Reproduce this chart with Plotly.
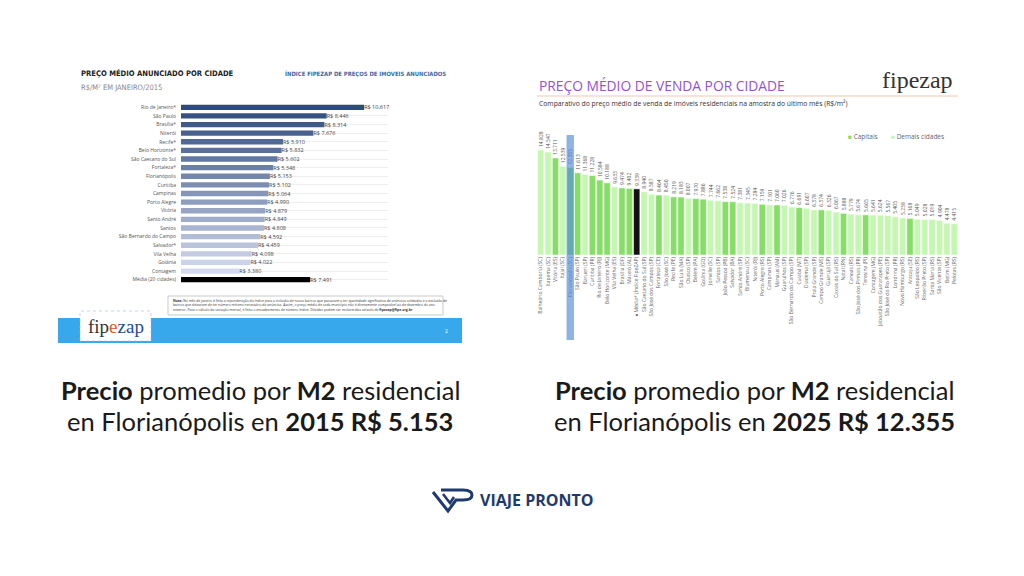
import plotly.graph_objects as go

# ---- left chart data (2015, R$/m2 anunciado)
cities_2015 = ["Rio de Janeiro*", "São Paulo", "Brasília*", "Niterói", "Recife*", "Belo Horizonte*",
               "São Caetano do Sul", "Fortaleza*", "Florianópolis", "Curitiba", "Campinas", "Porto Alegre",
               "Vitória", "Santo André", "Santos", "São Bernardo do Campo", "Salvador*", "Vila Velha",
               "Goiânia", "Contagem", "Média (20 cidades)"]
values_2015 = [10617, 8446, 8314, 7676, 5910, 5832, 5602, 5348, 5153, 5102, 5064, 4990,
               4879, 4849, 4808, 4592, 4459, 4098, 4022, 3380, 7491]

# ---- right chart data (2025, preço médio de venda)
cities_2025 = ["Balneário Camboriú (SC)", "Itapema (SC)", "Vitória (ES)", "Itajaí (SC)", "Florianópolis (SC)",
               "São Paulo (SP)", "Barueri (SP)", "Curitiba (PR)", "Rio de Janeiro (RJ)", "Belo Horizonte (MG)",
               "Vila Velha (ES)", "Brasília (DF)", "Maceió (AL)", "● Média* (Índice FipeZAP)",
               "São Caetano do Sul (SP)", "São José dos Campos (SP)", "Fortaleza (CE)", "São José (SC)",
               "Recife (PE)", "São Luís (MA)", "Osasco (SP)", "Belém (PA)", "Goiânia (GO)", "Joinville (SC)",
               "Santos (SP)", "João Pessoa (PB)", "Salvador (BA)", "Santo André (SP)", "Blumenau (SC)",
               "Niterói (RJ)", "Porto Alegre (RS)", "Campinas (SP)", "Manaus (AM)", "Guarulhos (SP)",
               "São Bernardo do Campo (SP)", "Cuiabá (MT)", "Diadema (SP)", "Praia Grande (SP)",
               "Campo Grande (MS)", "Guarujá (SP)", "Caxias do Sul (RS)", "Natal (RN)", "Canoas (RS)",
               "São José dos Pinhais (PR)", "Teresina (PI)", "Contagem (MG)", "Jaboatão dos Guararapes (PE)",
               "São José do Rio Preto (SP)", "Londrina (PR)", "Novo Hamburgo (RS)", "Aracaju (SE)",
               "São Leopoldo (RS)", "Ribeirão Preto (SP)", "Santa Maria (RS)", "São Vicente (SP)",
               "Betim (MG)", "Pelotas (RS)"]
values_2025 = [14828, 14547, 13711, 12539, 12355, 11613, 11368, 11228, 10584, 10188,
               9633, 9474, 9402, 9339, 8940, 8587, 8464, 8450, 8219, 8183,
               8007, 7970, 7886, 7744, 7662, 7538, 7524, 7381, 7345, 7284,
               7159, 7101, 7060, 7026, 6776, 6691, 6607, 6378, 6374, 6326,
               6067, 5888, 5779, 5674, 5665, 5641, 5624, 5567, 5405, 5238,
               5168, 5049, 5028, 5019, 4904, 4478, 4415]
capitais = ["Vitória (ES)", "Florianópolis (SC)", "São Paulo (SP)", "Curitiba (PR)", "Rio de Janeiro (RJ)",
            "Belo Horizonte (MG)", "Brasília (DF)", "Maceió (AL)", "Fortaleza (CE)", "Recife (PE)",
            "São Luís (MA)", "Belém (PA)", "Goiânia (GO)", "João Pessoa (PB)", "Salvador (BA)",
            "Porto Alegre (RS)", "Manaus (AM)", "Cuiabá (MT)", "Campo Grande (MS)", "Natal (RN)",
            "Teresina (PI)", "Aracaju (SE)"]
media_2025 = "● Média* (Índice FipeZAP)"
destaque = "Florianópolis (SC)"


def br(v):
    return f"{v:,}".replace(",", ".")


W, H = 1024, 576
OFF = 8  # page body margin
def px(x):  # paper x from screen pixel
    return (x - OFF) / W
def py(y):  # paper y from screen pixel (top origin)
    return 1 - (y - OFF) / H


fig = go.Figure()

# left bars: blue gradient, black for the average
n = len(cities_2015)
left_colors = []
for i, c in enumerate(cities_2015):
    if c.startswith("Média"):
        left_colors.append("#000000")
    else:
        t = i / (n - 2)
        r = int(0x2E + t * (0xD4 - 0x2E))
        g = int(0x4B + t * (0xDB - 0x4B))
        b = int(0x7E + t * (0xEE - 0x7E))
        left_colors.append(f"rgb({r},{g},{b})")

fig.add_trace(go.Bar(
    x=values_2015, y=cities_2015, orientation="h",
    marker=dict(color=left_colors, line=dict(width=0)),
    text=["R$ " + br(v) for v in values_2015], textposition="outside", constraintext="none",
    textfont=dict(size=5.5, color="#444", family="Open Sans"),
    cliponaxis=False, width=0.62, showlegend=False,
    xaxis="x", yaxis="y"))

# right bars: capitais / demais / média
cap_x = [c for c in cities_2025 if c in capitais]
cap_y = [v for c, v in zip(cities_2025, values_2025) if c in capitais]
oth_x = [c for c in cities_2025 if c not in capitais and c != media_2025]
oth_y = [v for c, v in zip(cities_2025, values_2025) if c not in capitais and c != media_2025]
med_y = [v for c, v in zip(cities_2025, values_2025) if c == media_2025]

for xs, ys, col, name in [(cap_x, cap_y, "#86DE66", "Capitais"),
                          (oth_x, oth_y, "#C6F7B2", "Demais cidades"),
                          ([media_2025], med_y, "#111111", "Média")]:
    fig.add_trace(go.Bar(
        x=xs, y=ys, name=name, showlegend=False,
        marker=dict(color=col, line=dict(width=0.5, color="white")),
        text=[br(v) for v in ys], textposition="outside", textangle=-90, constraintext="none",
        textfont=dict(size=5, color="#555", family="Open Sans"),
        cliponaxis=False, width=0.85,
        xaxis="x2", yaxis="y2"))

fl = cities_2025.index(destaque)

fig.update_layout(
    width=W, height=H,
    paper_bgcolor="white", plot_bgcolor="rgba(0,0,0,0)",
    margin=dict(l=0, r=0, t=0, b=0),
    barmode="overlay",
    font=dict(family="Open Sans"),
    xaxis=dict(domain=[px(181), px(388)], range=[0, 12000], visible=False),
    yaxis=dict(domain=[py(284), py(103)], autorange="reversed", anchor="x",
               tickfont=dict(size=5, color="#555"), showgrid=True,
               gridcolor="#eeeeee", ticks="", showline=False, ticklabelstandoff=4),
    xaxis2=dict(domain=[px(537), px(958)], anchor="y2", categoryorder="array",
                categoryarray=cities_2025, tickangle=-90,
                tickfont=dict(size=5, color="#666"), showline=False, ticks=""),
    yaxis2=dict(domain=[py(255), py(135)], range=[0, 16950], visible=False, anchor="x2"),
)

shapes = [
    # left: blue footer band
    dict(type="rect", xref="paper", yref="paper", x0=px(58), x1=px(462), y0=py(343), y1=py(318),
         fillcolor="#38A8EC", line=dict(width=0), layer="below"),
    # left: note box
    dict(type="rect", xref="paper", yref="paper", x0=px(168), x1=px(443), y0=py(315), y1=py(296),
         fillcolor="white", line=dict(width=0.8, color="#bbbbbb")),
    # left: logo box
    dict(type="rect", xref="paper", yref="paper", x0=px(80), x1=px(151), y0=py(341), y1=py(311),
         fillcolor="white", line=dict(width=0.6, color="#9bb7dd", dash="dot")),
    # right: rule under title
    dict(type="line", xref="paper", yref="paper", x0=px(537), x1=px(958), y0=py(96), y1=py(96),
         line=dict(width=1, color="#F1C9AE")),
    # right: highlight of Florianópolis
    dict(type="rect", xref="x2", yref="paper", x0=fl - 0.5, x1=fl + 0.5, y0=py(340), y1=py(135),
         fillcolor="rgba(80,140,215,0.65)", line=dict(width=0)),
    # logo mark VP
    dict(type="path", xref="paper", yref="paper",
         path=f"M {px(433)},{py(492)} L {px(448)},{py(511)} L {px(456)},{py(500)} "
              f"L {px(463)},{py(500)} Q {px(472)},{py(500)} {px(472)},{py(495)} "
              f"Q {px(472)},{py(490)} {px(463)},{py(490)} L {px(441)},{py(490)}",
         line=dict(width=3, color="#1F3A6E")),
    dict(type="path", xref="paper", yref="paper",
         path=f"M {px(443)},{py(494)} L {px(450)},{py(503)} L {px(454)},{py(497)}",
         line=dict(width=2.5, color="#1F3A6E")),
]

note = ("<b>Nota:</b> No mês de janeiro é feita a reponderação do índice para a inclusão de novos bairros que passaram a ter quantidade significativa de anúncios coletados e a exclusão de<br>"
        "bairros que deixaram de ter número mínimo necessário de anúncios. Assim, o preço médio de cada município não é diretamente comparável ao de dezembro do ano<br>"
        "anterior. Para o cálculo da variação mensal, é feito o encadeamento de número índice. Dúvidas podem ser esclarecidas através de <b>fipezap@fipe.org.br</b>.")

cap_font = dict(family="Lato", size=25.5, color="#1a1a1a")
annotations = [
    dict(text="<b>PREÇO MÉDIO ANUNCIADO POR CIDADE</b>", x=px(79), y=py(73),
         font=dict(family="DejaVu Sans Condensed", size=7.6, color="#222")),
    dict(text="R$/M² EM JANEIRO/2015", x=px(79), y=py(88),
         font=dict(family="DejaVu Sans Condensed", size=7.5, color="#888")),
    dict(text="<b>ÍNDICE FIPEZAP DE PREÇOS DE IMÓVEIS ANUNCIADOS</b>", x=px(283), y=py(74),
         font=dict(family="DejaVu Sans Condensed", size=5.9, color="#3F6A9E")),
    dict(text=note, x=px(171), y=py(305), align="left",
         font=dict(size=3.4, color="#333")),
    dict(text="fip<span style='color:#E2572C'>e</span><span style='color:#1F4E8C'>zap</span>",
         x=px(86), y=py(326), font=dict(family="Liberation Serif", size=19, color="#333")),
    dict(text="2", x=px(443), y=py(331), font=dict(size=5, color="white")),
    dict(text="PREÇO MÉDIO DE VENDA POR CIDADE", x=px(537), y=py(86),
         font=dict(family="Open Sans", size=13.8, color="#9650D6")),
    dict(text="fipezap", x=px(880), y=py(80),
         font=dict(family="Liberation Serif", size=24, color="#333")),
    dict(text="Comparativo do preço médio de venda de imóveis residenciais na amostra do último mês (R$/m²)",
         x=px(537), y=py(103), font=dict(family="Open Sans", size=6.8, color="#333")),
    dict(text="<span style='color:#86DE66'>■</span> Capitais", x=px(846), y=py(136),
         font=dict(size=6.5, color="#666")),
    dict(text="<span style='color:#C6F7B2'>■</span> Demais cidades", x=px(889), y=py(136),
         font=dict(size=6.5, color="#666")),
    dict(text="<b>Precio</b> promedio por <b>M2</b> residencial", x=px(260), y=py(390),
         xanchor="center", font=cap_font),
    dict(text="en Florianópolis en <b>2015 R$ " + br(values_2015[cities_2015.index("Florianópolis")]) + "</b>",
         x=px(260), y=py(421), xanchor="center", font=cap_font),
    dict(text="<b>Precio</b> promedio por <b>M2</b> residencial", x=px(754), y=py(390),
         xanchor="center", font=cap_font),
    dict(text="en Florianópolis en <b>2025 R$ " + br(values_2025[fl]) + "</b>",
         x=px(754), y=py(421), xanchor="center", font=cap_font),
    dict(text="<b>VIAJE PRONTO</b>", x=px(478), y=py(500),
         font=dict(family="Open Sans", size=16, color="#1F3A6E")),
]
for a in annotations:
    a.setdefault("xanchor", "left")
    a.update(xref="paper", yref="paper", yanchor="middle", showarrow=False)

fig.update_layout(shapes=shapes, annotations=annotations)

fig.write_html("out.html")
